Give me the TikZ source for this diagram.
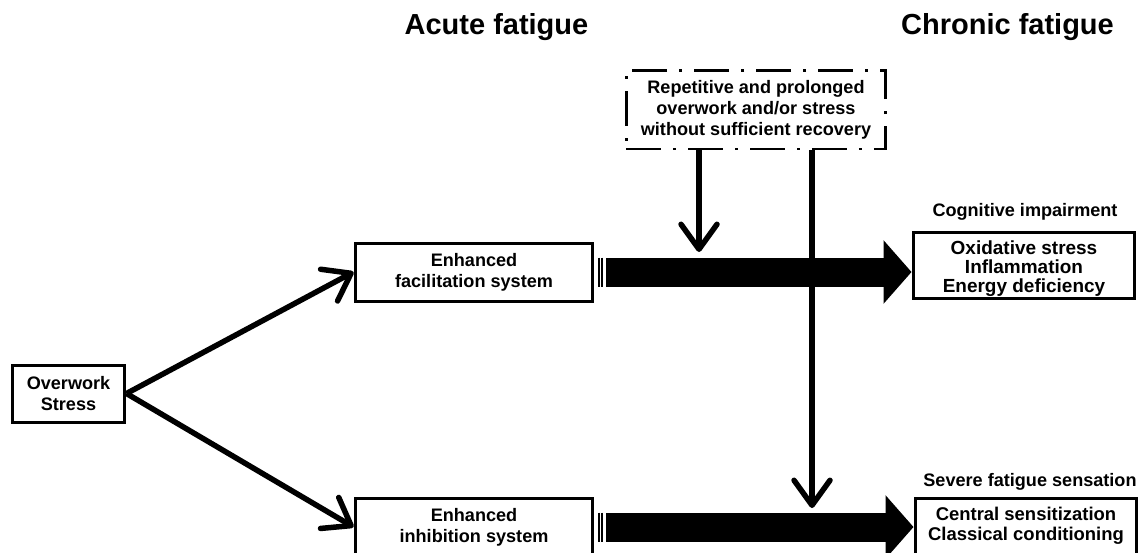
\documentclass[tikz,border=0pt]{standalone}
\usepackage{fontspec}
\setmainfont{Liberation Sans}
\usepackage{tikz}
\usetikzlibrary{arrows.meta, positioning, calc}

\begin{document}
\begin{tikzpicture}[x=0.02cm, y=-0.02cm,
    font=\fontsize{10.3}{12}\selectfont\bfseries,
    box/.style={draw, line width=0.06cm, align=center, inner sep=0pt},
    thin/.style={line width=0.11cm, -{Straight Barb[length=0.5cm, width=0.72cm, line cap=round, line join=round]}},
    fat/.style={line width=0.58cm, -{Triangle[length=0.56cm, width=1.24cm]}}]
  \clip (0,0) rectangle (1138,552);
  \node[font=\fontsize{16.5}{18}\selectfont\bfseries] (acute) at (496.5,27) {Acute fatigue};
  \node[font=\fontsize{16.5}{18}\selectfont\bfseries] (chron) at (1007.5,27) {Chronic fatigue};

  \node[box, minimum width=2.26cm, minimum height=1.14cm] (ow) at (68.5,393.5) {Overwork\\Stress};
  \node[box, minimum width=4.76cm, minimum height=1.16cm] (fac) at (474,272) {Enhanced\\facilitation system};
  \node[box, minimum width=4.76cm, minimum height=1.16cm] (inh) at (474,527) {Enhanced\\inhibition system};
  \node[box, font=\fontsize{10.8}{10.6}\selectfont\bfseries, minimum width=4.44cm, minimum height=1.32cm] (ox) at (1024,265)
    {\rule{0pt}{12pt}Oxidative stress\\Inflammation\\Energy deficiency};
  \node[box, font=\fontsize{10.5}{11.6}\selectfont\bfseries, minimum width=4.44cm, minimum height=1.12cm] (sen) at (1026,526)
    {Central sensitization\\Classical conditioning};
  \node[box, dash pattern=on 0.7cm off 0.24cm on 0.06cm off 0.24cm, minimum width=5.2cm, minimum height=1.58cm] (rep) at (756,109.5)
    {Repetitive and prolonged\\overwork and/or stress\\without sufficient recovery};
  \node (cog) at (1025,212) {Cognitive impairment};
  \node (sev) at (1030,482) {Severe fatigue sensation};

  \coordinate (d1) at (699,252);
  \coordinate (d2) at (812,508);

  \draw[thin] (ow.east) -- (fac.west);
  \draw[thin] (ow.east) -- (inh.west);

  \draw[fat] ([xshift=0.24cm]fac.east) -- (fac.east -| ox.west);
  \draw[fat] ([xshift=0.24cm]inh.east) -- (inh.east -| sen.west);
  \foreach \d in {0.09cm, 0.15cm} {
    \draw[line width=0.03cm] ([xshift=\d, yshift=0.29cm]fac.east) -- ([xshift=\d, yshift=-0.29cm]fac.east);
    \draw[line width=0.03cm] ([xshift=\d, yshift=0.29cm]inh.east) -- ([xshift=\d, yshift=-0.29cm]inh.east);
  }

  \draw[thin] (rep.south -| d1) -- (d1);
  \draw[thin] (rep.south -| d2) -- (d2);
\end{tikzpicture}
\end{document}
